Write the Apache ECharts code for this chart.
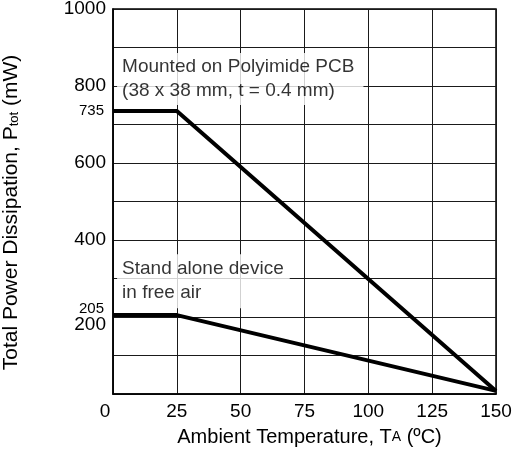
<!DOCTYPE html>
<html><head><meta charset="utf-8">
<script src="https://cdn.jsdelivr.net/npm/echarts@6/dist/echarts.min.js"></script>
<style>html,body{margin:0;padding:0;background:#fff}#c{width:515px;height:458px}</style>
</head><body><div id="c"></div>
<script>
var tempX = [0, 25, 150];
var pcbPower = [735, 735, 8];
var freeAirPower = [205, 205, 8];
var xTicks = [0, 25, 50, 75, 100, 125, 150];
var yMainLabels = [200, 400, 600, 800, 1000];
var ySmallLabels = [205, 735];
var notePcb = 'Mounted on Polyimide PCB\n(38 x 38 mm, t = 0.4 mm)';
var noteFree = 'Stand alone device\nin free air';

function pairs(xs, ys) { return xs.map(function (x, i) { return [x, ys[i]]; }); }

var font = 'Liberation Sans, Arial, Helvetica, sans-serif';
var ink = '#000';
var chart = echarts.init(document.getElementById('c'));
chart.setOption({
  animation: false,
  backgroundColor: '#fff',
  textStyle: { fontFamily: font, color: ink },
  grid: { left: 113, right: 19, top: 9, bottom: 64, outerBoundsMode: 'none', containLabel: false,
          show: true, borderColor: ink, borderWidth: 1.5, backgroundColor: 'transparent' },
  xAxis: {
    type: 'value', min: 0, max: 150, interval: 25,
    axisLine: { show: true, lineStyle: { color: ink, width: 1.5 } },
    axisTick: { show: false },
    splitLine: { show: true, lineStyle: { color: '#1a1a1a', width: 1 } },
    axisLabel: {
      margin: 8, fontSize: 19, color: ink, fontFamily: font,
      formatter: function (v) { return v === 0 ? '{z|0}' : String(v); },
      rich: { z: { fontSize: 19, fontFamily: font, color: ink, padding: [0, 16, 0, 0] } }
    },
    name: '{a|Ambient Temperature, T}{s|A}{a| (ºC)}',
    nameLocation: 'middle', nameGap: 33,
    nameTextStyle: { padding: [0, 0, 0, 10], rich: { a: { fontSize: 20, fontFamily: font, color: ink }, s: { fontSize: 14, fontFamily: font, color: ink } } }
  },
  yAxis: [{
    type: 'value', min: 0, max: 1000, interval: 100,
    axisLine: { show: true, lineStyle: { color: ink, width: 1.5 } },
    axisTick: { show: false },
    splitLine: { show: true, lineStyle: { color: '#1a1a1a', width: 1 } },
    axisLabel: {
      margin: 7, fontSize: 19, color: ink, fontFamily: font,
      formatter: function (v) {
        if (yMainLabels.indexOf(v) < 0) return '';
        return v === 200 ? '{d|200}' : String(v);
      },
      rich: { d: { fontSize: 19, fontFamily: font, color: ink, padding: [16, 0, 0, 0] } }
    },
    name: '{a|Total Power Dissipation, P}{s|tot}{a| (mW)}',
    nameLocation: 'middle', nameGap: 91, nameRotate: 90,
    nameTextStyle: { padding: [0, 22, 0, 0], rich: { a: { fontSize: 21, fontFamily: font, color: ink }, s: { fontSize: 13, fontFamily: font, color: ink, padding: [6, 0, 0, 0] } } }
  }, {
    type: 'value', min: 0, max: 1000, position: 'left',
    axisLine: { show: false }, axisTick: { show: false }, splitLine: { show: false },
    axisLabel: {
      customValues: ySmallLabels, margin: 9, fontSize: 15, color: ink, fontFamily: font,
      formatter: function (v) { return v === 205 ? '{u|205}' : String(v); },
      rich: { u: { fontSize: 15, fontFamily: font, color: ink, padding: [0, 0, 12, 0] } }
    }
  }],
  series: [{
    type: 'line', data: pairs(tempX, pcbPower), symbol: 'none',
    lineStyle: { color: ink, width: 4 }, z: 5
  }, {
    type: 'line', data: pairs(tempX, freeAirPower), symbol: 'none',
    lineStyle: { color: ink, width: 4 }, z: 5
  }, {
    type: 'scatter', symbolSize: 0, z: 3,
    data: [{ value: [1.6, 818], label: { formatter: notePcb, padding: [2, 9, 2, 5] } },
           { value: [1.6, 293], label: { formatter: noteFree, padding: [3, 6, 3, 5] } }],
    label: {
      show: true, position: 'right', distance: 0, fontSize: 19, lineHeight: 24,
      fontFamily: font, color: ink, backgroundColor: '#fff'
    }
  }]
});
</script></body></html>
